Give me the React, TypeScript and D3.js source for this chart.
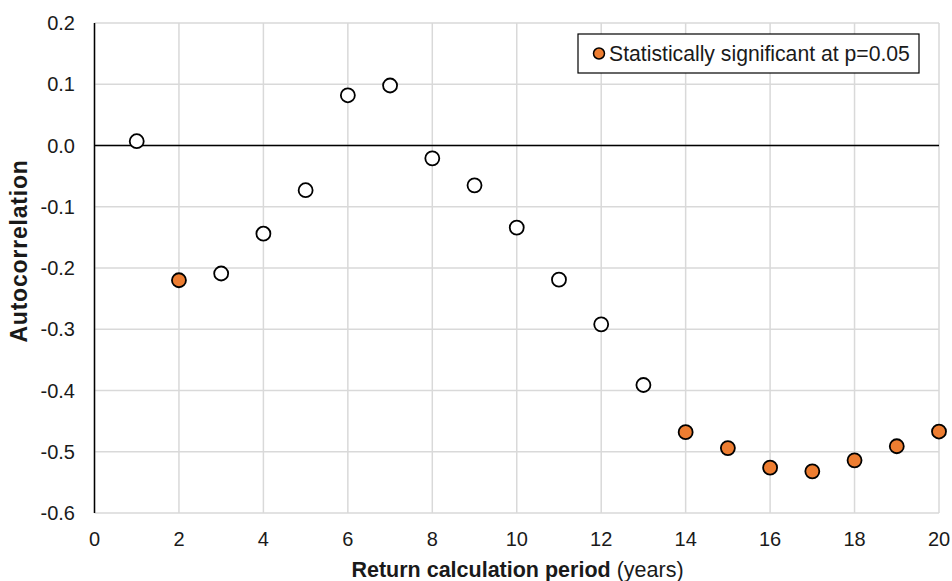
import React from "react";
import * as d3 from "d3";

const periods = [1, 2, 3, 4, 5, 6, 7, 8, 9, 10, 11, 12, 13, 14, 15, 16, 17, 18, 19, 20];
const autocorr = [0.007, -0.22, -0.209, -0.144, -0.073, 0.082, 0.098, -0.021, -0.065, -0.134, -0.219, -0.292, -0.391, -0.468, -0.494, -0.526, -0.532, -0.514, -0.491, -0.467];
const significant = [false, true, false, false, false, false, false, false, false, false, false, false, false, true, true, true, true, true, true, true];
const xTicks = [0, 2, 4, 6, 8, 10, 12, 14, 16, 18, 20];
const yTicks = [0.2, 0.1, 0.0, -0.1, -0.2, -0.3, -0.4, -0.5, -0.6];
const legendLabel = "Statistically significant at p=0.05";

export default function App() {
  const W = 952, H = 581;
  const left = 94.5, right = 939, top = 23, bottom = 513;
  const x = d3.scaleLinear().domain([0, 20]).range([left, right]);
  const y = d3.scaleLinear().domain([-0.6, 0.2]).range([bottom, top]);
  const font = "'Liberation Sans', Arial, sans-serif";
  const orange = "#ED7D31";
  const grid = "#d9d9d9";
  return (
    <svg width={W} height={H} style={{ position: "absolute", left: 0, top: 0, background: "#fff" }} fontFamily={font}>
      {yTicks.map((t) => (
        <line key={"gy" + t} x1={left} x2={right} y1={y(t)} y2={y(t)} stroke={grid} strokeWidth={1.5} />
      ))}
      {xTicks.map((t) => (
        <line key={"gx" + t} x1={x(t)} x2={x(t)} y1={top} y2={bottom} stroke={grid} strokeWidth={1.5} />
      ))}
      <line x1={left} x2={right} y1={y(0)} y2={y(0)} stroke="#000" strokeWidth={1.5} />
      <line x1={left} x2={left} y1={top} y2={bottom} stroke="#000" strokeWidth={1.5} />
      {yTicks.map((t) => (
        <text key={"ty" + t} x={75} y={y(t)} dy="0.36em" textAnchor="end" fontSize={20} fill="#1a1a1a">
          {d3.format(".1f")(t).replace("−", "-")}
        </text>
      ))}
      {xTicks.map((t) => (
        <text key={"tx" + t} x={x(t)} y={546} textAnchor="middle" fontSize={20} fill="#1a1a1a">
          {t}
        </text>
      ))}
      <text transform={`translate(27, 251) rotate(-90)`} textAnchor="middle" fontSize={23} letterSpacing={0.8} fontWeight="bold" fill="#1a1a1a">
        Autocorrelation
      </text>
      <text x={517.5} y={577} textAnchor="middle" fontSize={21.5} fill="#1a1a1a">
        <tspan fontWeight="bold">Return calculation period</tspan>
        <tspan> (years)</tspan>
      </text>
      {periods.map((p, i) => (
        <circle key={"p" + p} cx={x(p)} cy={y(autocorr[i])} r={7} fill={significant[i] ? orange : "#fff"} stroke="#000" strokeWidth={1.8} />
      ))}
      <rect x={578} y={34} width={341} height={39} fill="#fff" stroke="#000" strokeWidth={1.2} />
      <circle cx={599} cy={53.5} r={5.5} fill={orange} stroke="#000" strokeWidth={1.5} />
      <text x={609} y={53.5} dy="0.36em" fontSize={21.2} fill="#1a1a1a">
        {legendLabel}
      </text>
    </svg>
  );
}
